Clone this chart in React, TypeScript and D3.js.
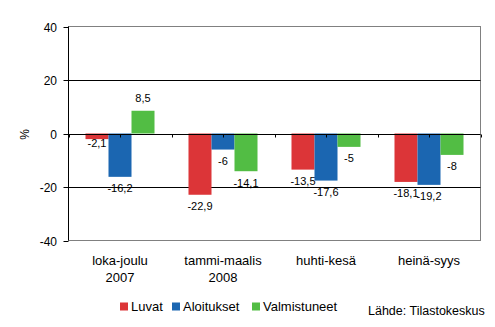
import React from "react";
import * as d3 from "d3";

const categories = [["loka-joulu", "2007"], ["tammi-maalis", "2008"], ["huhti-kesä"], ["heinä-syys"]];
const seriesNames = ["Luvat", "Aloitukset", "Valmistuneet"];
const luvat = [-2.1, -22.9, -13.5, -18.1];
const aloitukset = [-16.2, -6, -17.6, -19.2];
const valmistuneet = [8.5, -14.1, -5, -8];
const yTicks = [40, 20, 0, -20, -40];
const colors = ["#dc3538", "#1b66b1", "#52bd44"];

const W = 495, H = 327;
const L = 68.5, R = 480.5, T = 26.5, B = 240.5;

export default function App() {
  const series = [luvat, aloitukset, valmistuneet];
  const y = d3.scaleLinear().domain([-40, 40]).range([B, T]);
  const x0 = d3.scaleBand<number>().domain(d3.range(categories.length)).range([L, R]).paddingInner(0.33).paddingOuter(0.165);
  const x1 = d3.scaleBand<number>().domain(d3.range(seriesNames.length)).range([0, x0.bandwidth()]);
  const step = x0.step();
  const fmt = (v: number) => String(v).replace(".", ",");
  const font = "Liberation Sans, Arial, sans-serif";
  const zero = Math.round(y(0)) + 0.5;
  const legendX = [120, 172, 252];
  return (
    <svg width={W} height={H} style={{ position: "absolute", left: 0, top: 0 }} fontFamily={font}>
      <rect width={W} height={H} fill="#fff" />
      {/* plot border */}
      <rect x={L} y={T} width={R - L} height={B - T} fill="none" stroke="#808080" strokeWidth={1} />
      {yTicks.filter(t => t !== 0 && Math.abs(t) !== 40).map(t => (
        <line key={t} x1={L} x2={R} y1={Math.round(y(t)) + 0.5} y2={Math.round(y(t)) + 0.5} stroke="#000" />
      ))}
      {series.map((vals, si) =>
        vals.map((v, ci) => {
          const bx = (x0(ci) as number) + (x1(si) as number);
          const y1 = Math.min(y(v), y(0));
          const h = Math.abs(y(v) - y(0));
          return <rect key={`${si}-${ci}`} x={bx} y={y1} width={x1.bandwidth()} height={h} fill={colors[si]} />;
        })
      )}
      {/* zero axis */}
      <line x1={L} x2={R} y1={zero} y2={zero} stroke="#000" />
      {d3.range(categories.length * 2 + 1).map(k => {
        const xx = Math.round(L + (k * step) / 2) + 0.5;
        return <line key={k} x1={xx} x2={xx} y1={zero} y2={zero + 3} stroke="#000" />;
      })}
      {/* left axis */}
      <line x1={L} x2={L} y1={T} y2={B} stroke="#000" />
      {yTicks.map(t => {
        const yy = Math.round(y(t)) + 0.5;
        return (
          <g key={t}>
            <line x1={L - 5} x2={L} y1={yy} y2={yy} stroke="#000" />
            <text x={57} y={yy + 4.5} textAnchor="end" fontSize={12}>{t}</text>
          </g>
        );
      })}
      <text transform={`translate(29,${zero}) rotate(-90)`} textAnchor="middle" fontSize={12}>%</text>
      {/* value labels */}
      {series.map((vals, si) =>
        vals.map((v, ci) => {
          const cx = (x0(ci) as number) + (x1(si) as number) + x1.bandwidth() / 2;
          let ly = v >= 0 ? y(v) - 8.5 : y(v) + 15.5;
          if (si === 0 && ci === 0) ly = y(v) + 7.5;
          return <text key={`l${si}-${ci}`} x={cx} y={ly} textAnchor="middle" fontSize={11}>{fmt(v)}</text>;
        })
      )}
      {/* category labels */}
      {categories.map((lines, ci) => {
        const cx = (x0(ci) as number) + x0.bandwidth() / 2;
        return lines.map((ln, li) => (
          <text key={`c${ci}-${li}`} x={cx} y={264.5 + li * 17} textAnchor="middle" fontSize={13}>{ln}</text>
        ));
      })}
      {/* legend */}
      {seriesNames.map((n, si) => (
        <g key={n}>
          <rect x={legendX[si]} y={302.5} width={8} height={8} fill={colors[si]} />
          <text x={legendX[si] + 11} y={310.5} fontSize={13}>{n}</text>
        </g>
      ))}
      <text x={368} y={315} fontSize={12.5}>Lähde: Tilastokeskus</text>
    </svg>
  );
}
